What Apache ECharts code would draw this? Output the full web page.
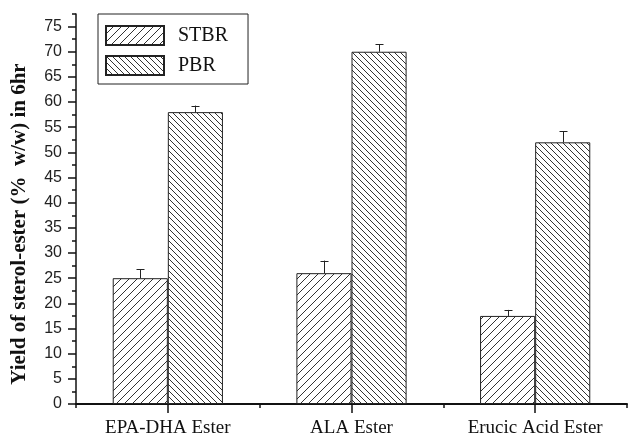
<!DOCTYPE html>
<html>
<head>
<meta charset="utf-8">
<script src="https://cdn.jsdelivr.net/npm/echarts@6/dist/echarts.min.js"></script>
<style>
  html, body { margin: 0; padding: 0; background: #fff; }
  #chart { width: 628px; height: 440px; }
</style>
</head>
<body>
<div id="chart"></div>
<script>
// Sterol-ester yield after 6 h for each fatty-acid ester, two reactor types
const categories = ['EPA-DHA Ester', 'ALA Ester', 'Erucic Acid Ester'];
const stbrYield = [25, 26, 17.5];
const stbrError = [1.8, 2.5, 1.2];
const pbrYield = [58, 70, 52];
const pbrError = [1.3, 1.5, 2.2];
const majorTicks = [0, 5, 10, 15, 20, 25, 30, 35, 40, 45, 50, 55, 60, 65, 70, 75];
const minorTicks = [2.5, 7.5, 12.5, 17.5, 22.5, 27.5, 32.5, 37.5, 42.5, 47.5, 52.5, 57.5, 62.5, 67.5, 72.5, 77.5];

// Diagonal hatch tile: dir 1 draws "/" lines, dir -1 draws "\" lines
function hatch(period, dir) {
  const c = document.createElement('canvas');
  c.width = period; c.height = period;
  const g = c.getContext('2d');
  g.fillStyle = '#fff';
  g.fillRect(0, 0, period, period);
  g.strokeStyle = '#333';
  g.lineWidth = 1;
  g.beginPath();
  if (dir > 0) {
    g.moveTo(0, period); g.lineTo(period, 0);
    g.moveTo(-2, 2); g.lineTo(2, -2);
    g.moveTo(period - 2, period + 2); g.lineTo(period + 2, period - 2);
  } else {
    g.moveTo(0, 0); g.lineTo(period, period);
    g.moveTo(-2, period - 2); g.lineTo(2, period + 2);
    g.moveTo(period - 2, -2); g.lineTo(period + 2, 2);
  }
  g.stroke();
  return { image: c, repeat: 'repeat' };
}

const serif = '"Liberation Serif", "DejaVu Serif", serif';
const sans = '"Liberation Sans", Arial, sans-serif';

// Error bar drawn upward from the top of a bar; side = -1 left bar, +1 right bar
function errorBars(values, errors, side) {
  return {
    type: 'custom',
    z: 5,
    silent: true,
    data: values.map((v, i) => [i, v, v + errors[i]]),
    renderItem: function (params, api) {
      const band = api.size([1, 0])[0];
      const dx = side * band * 0.15;
      const base = api.coord([api.value(0), api.value(1)]);
      const top = api.coord([api.value(0), api.value(2)]);
      const x = Math.round(base[0] + dx) + 0.5;
      const cap = 4;
      const style = { stroke: '#222', lineWidth: 1 };
      return {
        type: 'group',
        children: [
          { type: 'line', shape: { x1: x, y1: base[1], x2: x, y2: top[1] }, style: style },
          { type: 'line', shape: { x1: x - cap, y1: Math.round(top[1]) + 0.5, x2: x + cap, y2: Math.round(top[1]) + 0.5 }, style: style }
        ]
      };
    }
  };
}

const chart = echarts.init(document.getElementById('chart'), null, { renderer: 'canvas' });
chart.setOption({
  animation: false,
  backgroundColor: '#fff',
  grid: { left: 76, right: 1, top: 14, bottom: 36 },
  legend: {
    left: 98,
    top: 14,
    orient: 'vertical',
    data: ['STBR', 'PBR'],
    icon: 'rect',
    itemWidth: 58,
    itemHeight: 19,
    itemGap: 9,
    padding: [11, 20, 8, 7],
    borderColor: '#222',
    borderWidth: 1,
    textStyle: { fontFamily: serif, fontSize: 20, lineHeight: 19, color: '#111', padding: [0, 0, 0, 9] }
  },
  xAxis: [
    {
      type: 'category',
      data: categories,
      boundaryGap: true,
      axisLine: { lineStyle: { color: '#111', width: 2 } },
      axisTick: { show: true, length: 4, alignWithLabel: false, lineStyle: { color: '#111', width: 1.5 } },
      axisLabel: { fontFamily: serif, fontSize: 19, color: '#111', margin: 15 }
    },
    {
      type: 'category',
      data: categories,
      position: 'bottom',
      boundaryGap: true,
      axisLine: { show: false },
      axisTick: { show: true, length: 9, alignWithLabel: true, lineStyle: { color: '#111', width: 1.5 } },
      axisLabel: { show: false }
    }
  ],
  yAxis: [
    {
      type: 'value',
      min: 0,
      max: 77.5,
      interval: 5,
      name: 'Yield of sterol-ester (%  w/w) in 6hr',
      nameLocation: 'middle',
      nameGap: 46,
      nameTextStyle: { fontFamily: serif, fontSize: 21, fontWeight: 'bold', color: '#111', padding: [0, 30, 0, 0] },
      axisLine: { show: true, lineStyle: { color: '#111', width: 1.5 } },
      axisTick: { show: true, length: 8, customValues: majorTicks, lineStyle: { color: '#111', width: 1.5 } },
      axisLabel: { customValues: majorTicks, fontFamily: sans, fontSize: 16, color: '#222', margin: 14 },
      splitLine: { show: false }
    },
    {
      type: 'value',
      min: 0,
      max: 77.5,
      interval: 5,
      position: 'left',
      axisLine: { show: false },
      axisTick: { show: true, length: 4, customValues: minorTicks, lineStyle: { color: '#111', width: 1.5 } },
      axisLabel: { show: false },
      splitLine: { show: false }
    }
  ],
  series: [
    {
      name: 'STBR',
      type: 'bar',
      data: stbrYield,
      barGap: '0%',
      barCategoryGap: '40%',
      itemStyle: { color: hatch(8, 1), borderColor: '#222', borderWidth: 1 }
    },
    {
      name: 'PBR',
      type: 'bar',
      data: pbrYield,
      barGap: '0%',
      barCategoryGap: '40%',
      itemStyle: { color: hatch(6, -1), borderColor: '#222', borderWidth: 1 }
    },
    errorBars(stbrYield, stbrError, -1),
    errorBars(pbrYield, pbrError, 1)
  ]
});
</script>
</body>
</html>
